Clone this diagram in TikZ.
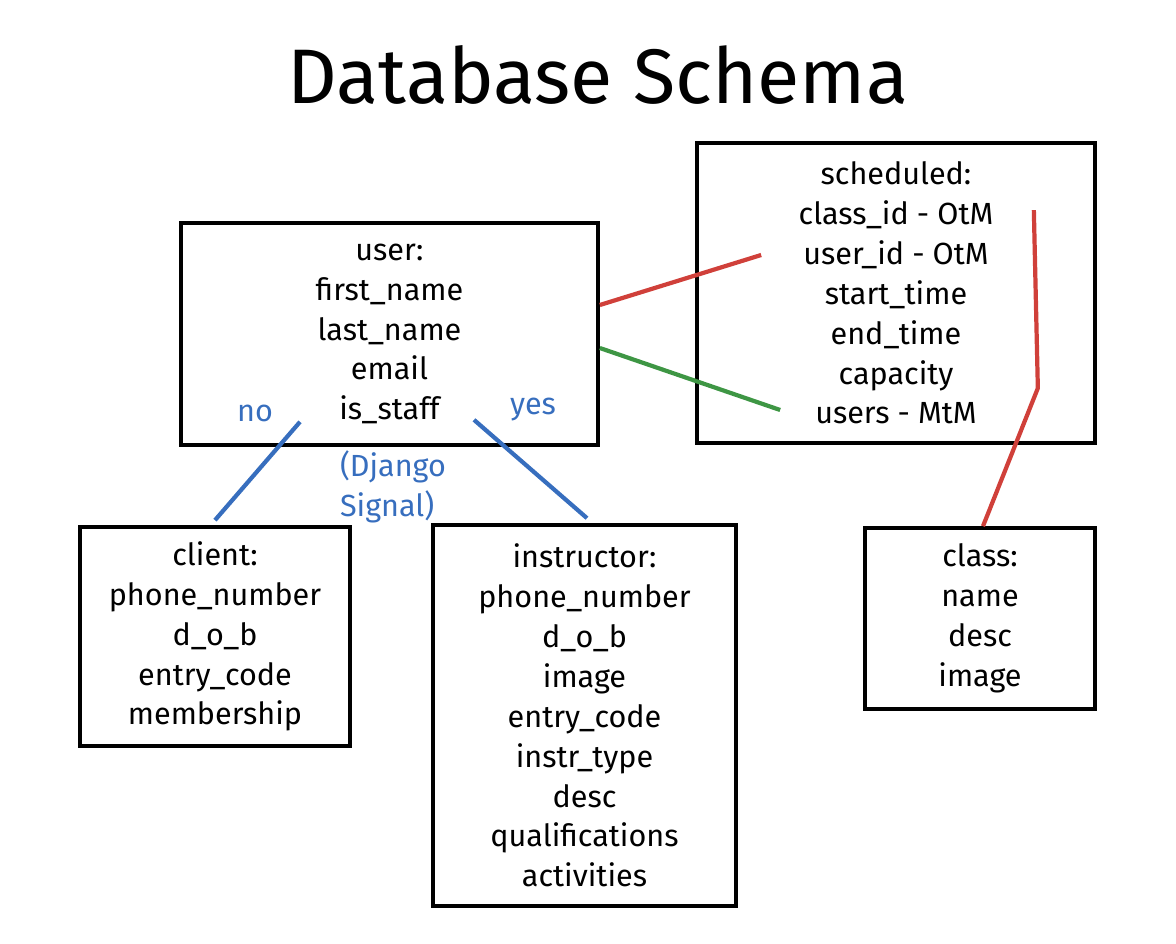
\documentclass[tikz,border=0pt]{standalone}
\usepackage{fontspec}
\setmainfont{Fira Sans}
\definecolor{relred}{RGB}{208,64,58}
\definecolor{relgreen}{RGB}{62,150,68}
\definecolor{relblue}{RGB}{55,110,190}
\tikzset{
  table/.style={draw,line width=2.1pt,inner sep=0pt,align=center,
    font=\fontsize{17.4}{22.7}\selectfont},
  rel/.style={line width=2.4pt}
}
\begin{document}
\begin{tikzpicture}
    \useasboundingbox (0,0) rectangle (23.52,-18.88);
    \node[font=\fontsize{44}{50}\selectfont] (title) at (11.96,-1.5) {Database Schema};
    \node[table,minimum width=8.34cm,minimum height=4.44cm] (user) at (7.79,-6.68)
      {user:\\first\_name\\last\_name\\email\\is\_staff};
    \node[table,minimum width=7.96cm,minimum height=6cm] (sched) at (17.92,-5.86)
      {scheduled:\\class\_id - OtM\\user\_id - OtM\\start\_time\\end\_time\\capacity\\users - MtM};
    \node[table,minimum width=5.4cm,minimum height=4.38cm] (client) at (4.3,-12.73)
      {client:\\phone\_number\\d\_o\_b\\entry\_code\\membership};
    \node[table,minimum width=6.06cm,minimum height=7.62cm] (instructor) at (11.69,-14.31)
      {instructor:\\phone\_number\\d\_o\_b\\image\\entry\_code\\instr\_type\\desc\\qualifications\\activities};
    \node[table,minimum width=4.6cm,minimum height=3.62cm] (class) at (19.6,-12.37)
      {class:\\name\\desc\\image};
    \node[text=relblue,font=\fontsize{17.4}{22.7}\selectfont] (no) at (5.1,-8.26) {no};
    \node[text=relblue,font=\fontsize{17.4}{22.7}\selectfont] (yes) at (10.66,-8.2) {yes};
    \node[text=relblue,align=left,font=\fontsize{17.4}{22.7}\selectfont] (signal) at (7.86,-9.74) {(Django\\Signal)};
    \draw[rel,relred] ([yshift=0.58cm]user.east) -- ([xshift=1.32cm,yshift=0.76cm]sched.west);
    \draw[rel,relgreen] ([yshift=-0.28cm]user.east) -- ([xshift=1.7cm,yshift=-2.34cm]sched.west);
    \draw[rel,relred] ([xshift=-1.26cm,yshift=-1.38cm]sched.north east) -- ++(0.08,-3.56)
      -- ([xshift=0.06cm]class.north);
    \draw[rel,relblue] ([xshift=-1.79cm,yshift=0.5cm]user.south) -- ([yshift=0.1cm]client.north);
    \draw[rel,relblue] ([xshift=1.69cm,yshift=0.54cm]user.south) -- ([xshift=0.05cm,yshift=0.1cm]instructor.north);
\end{tikzpicture}
\end{document}
